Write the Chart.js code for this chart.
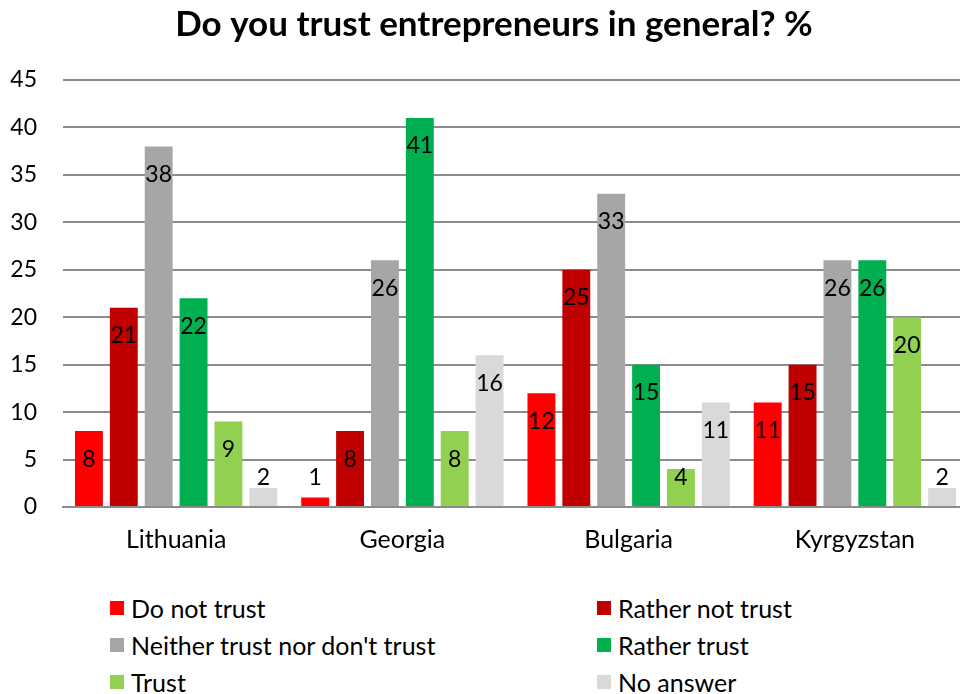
<!DOCTYPE html>
<html>
<head>
<meta charset="utf-8">
<script src="https://cdn.jsdelivr.net/npm/chart.js@4/dist/chart.umd.min.js"></script>
<style>
  html, body { margin: 0; padding: 0; background: #fff; overflow: hidden; }
  #wrap { position: relative; width: 960px; height: 694px; overflow: hidden; }
  canvas { position: absolute; left: 0; top: 0; }
  #legend {
    position: absolute; left: 110px; top: 595px;
    display: grid; grid-template-columns: 487px 320px; row-gap: 11px;
    font-family: Lato, sans-serif; font-size: 25px; color: #000;
  }
  .item { display: flex; align-items: center; height: 26px; white-space: nowrap; }
  .box { width: 14px; height: 14px; margin-right: 7px; }
</style>
</head>
<body>
<div id="wrap">
  <canvas id="chart" width="990" height="577"></canvas>
  <div id="legend"></div>
</div>
<script>
const countries = ["Lithuania", "Georgia", "Bulgaria", "Kyrgyzstan"];
const answers = ["Do not trust", "Rather not trust", "Neither trust nor don't trust", "Rather trust", "Trust", "No answer"];
const colors = ["#FF0000", "#C00000", "#A6A6A6", "#00B050", "#92D050", "#D9D9D9"];

const doNotTrust = [8, 1, 12, 11];
const ratherNotTrust = [21, 8, 25, 15];
const neither = [38, 26, 33, 26];
const ratherTrust = [22, 41, 15, 26];
const trust = [9, 8, 4, 20];
const noAnswer = [2, 16, 11, 2];

const yTicks = [0, 5, 10, 15, 20, 25, 30, 35, 40, 45];

const series = [doNotTrust, ratherNotTrust, neither, ratherTrust, trust, noAnswer];
const FONT = "Lato, sans-serif";

// value labels, Excel style "inside end" but kept off the axis
const valueLabels = {
  id: "valueLabels",
  afterDatasetsDraw(chart) {
    const ctx = chart.ctx;
    ctx.save();
    ctx.font = "23px " + FONT;
    ctx.fillStyle = "#000";
    ctx.textAlign = "center";
    ctx.textBaseline = "middle";
    chart.data.datasets.forEach((ds, i) => {
      chart.getDatasetMeta(i).data.forEach((bar, j) => {
        const y = Math.min(bar.y + 28, bar.base - 28);
        ctx.fillText(ds.data[j], bar.x, y);
      });
    });
    ctx.restore();
  }
};

// the original title sits a bit right of the plot centre
const shiftTitle = {
  id: "shiftTitle",
  afterLayout(chart) {
    const t = chart.titleBlock;
    if (t) { t.left += 10; t.right += 10; }
  }
};

new Chart(document.getElementById("chart"), {
  type: "bar",
  data: {
    labels: countries,
    datasets: answers.map((a, i) => ({
      label: a,
      data: series[i],
      backgroundColor: colors[i],
      borderWidth: 0
    }))
  },
  options: {
    responsive: false,
    animation: false,
    layout: { padding: { left: 0, right: 22, top: 0, bottom: 4 } },
    categoryPercentage: 0.925,
    barPercentage: 0.8,
    scales: {
      x: {
        grid: { display: false, drawTicks: false },
        border: { color: "#8C8C8C", width: 2 },
        ticks: { font: { family: FONT, size: 25 }, color: "#000", padding: 18 }
      },
      y: {
        min: 0,
        max: 45,
        afterFit: s => { s.width = 63; },
        afterBuildTicks: s => { s.ticks = yTicks.map(v => ({ value: v })); },
        grid: { color: "#8C8C8C", lineWidth: 2, drawTicks: false },
        border: { display: false },
        ticks: { font: { family: FONT, size: 23 }, color: "#000", padding: 26 }
      }
    },
    plugins: {
      legend: { display: false },
      tooltip: { enabled: false },
      title: {
        display: true,
        text: "Do you trust entrepreneurs in general? %",
        font: { family: FONT, size: 35, weight: "bold" },
        color: "#000",
        padding: { top: 4, bottom: 34 }
      }
    }
  },
  plugins: [valueLabels, shiftTitle]
});

// two-column legend like the original
const legend = document.getElementById("legend");
answers.forEach((a, i) => {
  const item = document.createElement("div");
  item.className = "item";
  const box = document.createElement("span");
  box.className = "box";
  box.style.background = colors[i];
  const txt = document.createElement("span");
  txt.textContent = a;
  item.appendChild(box);
  item.appendChild(txt);
  legend.appendChild(item);
});
</script>
</body>
</html>
